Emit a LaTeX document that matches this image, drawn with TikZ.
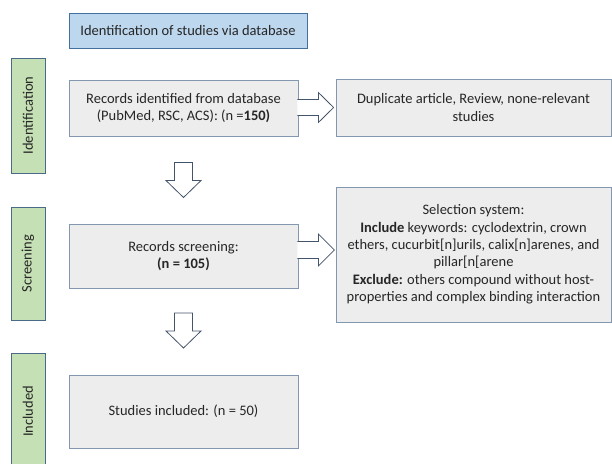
\documentclass[tikz,border=0pt]{standalone}
\usepackage{fontspec}
\setmainfont{Carlito}
\usetikzlibrary{calc}
\definecolor{txt}{HTML}{262626}
\definecolor{bluefill}{HTML}{BDD7EE}
\definecolor{blueline}{HTML}{41719C}
\definecolor{greenfill}{HTML}{C5E0B4}
\definecolor{greenline}{HTML}{4A6A8A}
\definecolor{grayfill}{HTML}{EDEDED}
\definecolor{grayline}{HTML}{8497B0}
\definecolor{arrowline}{HTML}{44546A}
\tikzset{
  basebox/.style={draw, line width=0.8pt, inner sep=2pt, align=center, text=txt,
    font=\fontsize{14.5}{17.4}\selectfont},
  titlebox/.style={basebox, draw=blueline, fill=bluefill},
  stagebar/.style={basebox, draw=greenline, fill=greenfill, rotate=90, minimum height=34pt},
  flowbox/.style={basebox, draw=grayline, fill=grayfill},
  blockarrow/.style={draw=arrowline, fill=white, line width=0.8pt, line join=miter}
}
\begin{document}
\begin{tikzpicture}[x=1pt,y=-1pt]
\useasboundingbox (0,0) rectangle (612,463);
% title
\node[titlebox, minimum width=238pt, minimum height=35pt] (title) at (188,30.5)
  {Identification of studies via database};
% stage bars
\node[stagebar, minimum width=115pt] (idbar) at (28,115.5) {Identification};
\node[stagebar, minimum width=113pt] (scbar) at (28,263.5) {Screening};
\begin{scope}
\clip (0,0) rectangle (612,463);
\node[stagebar, minimum width=117pt] (inbar) at (28,411.5) {Included};
\end{scope}
% flow boxes
\node[flowbox, minimum width=229pt, minimum height=56pt] (rec) at (183.5,108)
  {Records identified from database\\(PubMed, RSC, ACS): (n =\textbf{150)}};
\node[flowbox, minimum width=275pt, minimum height=57pt] (dup) at (473.5,107.5)
  {Duplicate article, Review, none-relevant\\studies};
\node[flowbox, minimum width=229pt, minimum height=64pt] (scr) at (183.5,256)
  {Records screening:\\\textbf{(n = 105)}};
\node[flowbox, minimum width=275pt, minimum height=135pt] (sel) at (473.5,254.5)
  {Selection system:\\
   \textbf{Include} keywords: cyclodextrin, crown\\
   ethers, cucurbit[n]urils, calix[n]arenes, and\\
   pillar[n[arene\\
   \textbf{Exclude:} others compound without host-\\
   properties and complex binding interaction};
\node[flowbox, minimum width=229pt, minimum height=73pt] (inc) at (183.5,411.5)
  {Studies included: (n = 50)};
% right block arrows
\coordinate (r1) at ($(rec.east)+(0,-0.5)$);
\draw[blockarrow] ($(r1)+(-1,-8)$) -- ($(r1)+(20,-8)$) -- ($(r1)+(20,-15)$)
  -- ($(dup.west)+(-2,0)$) -- ($(r1)+(20,15)$) -- ($(r1)+(20,8)$) -- ($(r1)+(-1,8)$);
\coordinate (r2) at ($(scr.east)+(0,-6)$);
\draw[blockarrow] ($(r2)+(-1,-8.5)$) -- ($(r2)+(20,-8.5)$) -- ($(r2)+(20,-16)$)
  -- ($(r2)+(36,0)$) -- ($(r2)+(20,16)$) -- ($(r2)+(20,8.5)$) -- ($(r2)+(-1,8.5)$);
% down block arrows
\coordinate (d1) at ($(rec.south)!0.5!(scr.north)$);
\draw[blockarrow] ($(d1)+(-9,-17.5)$) -- ($(d1)+(9,-17.5)$) -- ($(d1)+(9,0.5)$)
  -- ($(d1)+(17.5,0.5)$) -- ($(d1)+(0,17.5)$) -- ($(d1)+(-17.5,0.5)$)
  -- ($(d1)+(-9,0.5)$) -- cycle;
\coordinate (d2) at ($(scr.south)!0.5!(inc.north)$);
\draw[blockarrow] ($(d2)+(-9,-18.5)$) -- ($(d2)+(9,-18.5)$) -- ($(d2)+(9,-0.5)$)
  -- ($(d2)+(17.5,-0.5)$) -- ($(d2)+(0,16.5)$) -- ($(d2)+(-17.5,-0.5)$)
  -- ($(d2)+(-9,-0.5)$) -- cycle;
\end{tikzpicture}
\end{document}
